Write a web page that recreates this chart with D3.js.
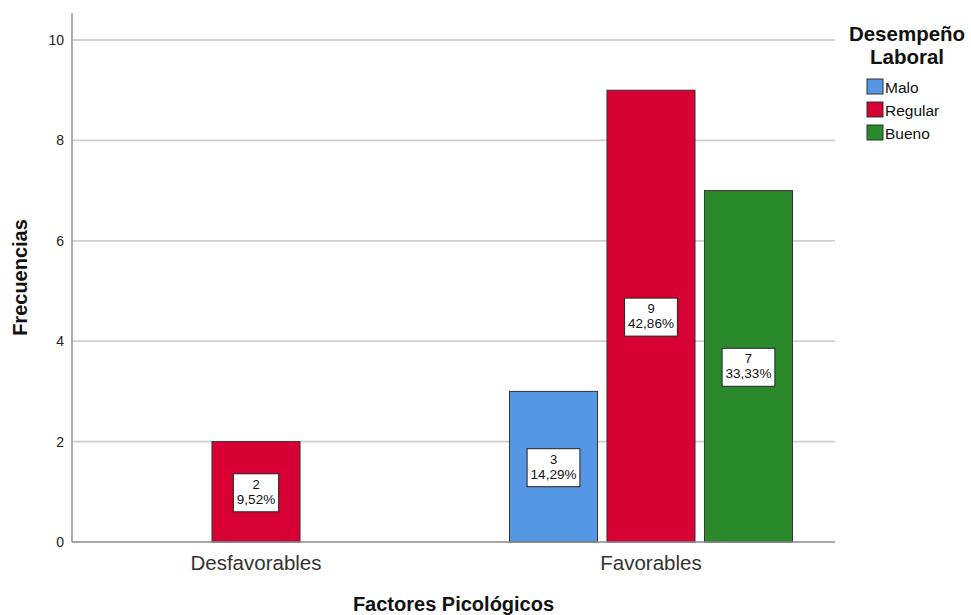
<!DOCTYPE html>
<html><head><meta charset="utf-8">
<script src="https://cdn.jsdelivr.net/npm/d3@7"></script>
<style>body{margin:0;background:#fff;} text{font-family:"Liberation Sans",Arial,sans-serif;}</style>
</head><body>
<svg id="c" width="971" height="615"></svg>
<script>
const categories = ["Desfavorables", "Favorables"];
const seriesNames = ["Malo", "Regular", "Bueno"];
const malo = [0, 3];
const regular = [2, 9];
const bueno = [0, 7];
const percents = {Malo: [null, "14,29%"], Regular: ["9,52%", "42,86%"], Bueno: [null, "33,33%"]};
const yTicks = [0, 2, 4, 6, 8, 10];
const colors = ["#5596e5", "#d60032", "#2a8a2b"];

const values = {Malo: malo, Regular: regular, Bueno: bueno};
const svg = d3.select("#c");
const mLeft = 72, mRight = 835, mTop = 13, mBottom = 542;
const y = d3.scaleLinear().domain([0, 10]).range([mBottom, 40]);
const x0 = d3.scaleBand().domain(categories).range([mLeft, mRight]).paddingInner(0.2835).paddingOuter(0.1076);
const x1 = d3.scaleBand().domain(seriesNames).range([0, x0.bandwidth()]).paddingInner(0.097).paddingOuter(0);
const color = d3.scaleOrdinal().domain(seriesNames).range(colors);

// gridlines
svg.append("g").selectAll("line").data(yTicks.filter(d => d > 0)).join("line")
  .attr("x1", mLeft).attr("x2", mRight).attr("y1", d => y(d)).attr("y2", d => y(d))
  .attr("stroke", "#d0d0d0").attr("stroke-width", 1.8);

// y axis
const yAxis = svg.append("g").attr("transform", `translate(${mLeft},0)`)
  .call(d3.axisLeft(y).tickValues(yTicks).tickSize(0).tickPadding(8));
yAxis.select(".domain").remove();
yAxis.selectAll("text").attr("font-size", 14).attr("fill", "#222").attr("font-family", "Liberation Sans, Arial, sans-serif");
svg.append("line").attr("x1", mLeft).attr("x2", mLeft).attr("y1", mTop).attr("y2", mBottom).attr("stroke", "#999").attr("stroke-width", 1.6);

// bars
const data = [];
categories.forEach((c, i) => seriesNames.forEach(s => {
  if (values[s][i] > 0) data.push({cat: c, s, v: values[s][i], p: percents[s][i]});
}));
const bars = svg.append("g");
bars.selectAll("rect").data(data).join("rect")
  .attr("x", d => x0(d.cat) + x1(d.s)).attr("width", x1.bandwidth())
  .attr("y", d => y(d.v)).attr("height", d => y(0) - y(d.v))
  .attr("fill", d => color(d.s)).attr("stroke", "#333").attr("stroke-width", 1);

// x axis baseline
svg.append("line").attr("x1", mLeft).attr("x2", mRight).attr("y1", mBottom).attr("y2", mBottom).attr("stroke", "#888").attr("stroke-width", 1.6);

// labels
const lab = svg.append("g").selectAll("g").data(data).join("g")
  .attr("transform", d => `translate(${x0(d.cat) + x1(d.s) + x1.bandwidth()/2},${(y(d.v) + y(0))/2 + 1})`);
lab.each(function(d) {
  const g = d3.select(this);
  const rect = g.append("rect");
  const t1 = g.append("text").attr("text-anchor", "middle").attr("y", -4).attr("font-size", 13).attr("fill", "#111").text(d.v);
  const t2 = g.append("text").attr("text-anchor", "middle").attr("y", 11).attr("font-size", 13.5).attr("fill", "#111").text(d.p);
  const w = Math.max(t1.node().getComputedTextLength(), t2.node().getComputedTextLength()) + 7;
  rect.attr("x", -w/2).attr("y", -19).attr("width", w).attr("height", 38).attr("fill", "#fff").attr("stroke", "#222").attr("stroke-width", 1);
});

// category labels
svg.append("g").selectAll("text").data(categories).join("text")
  .attr("x", d => x0(d) + x0.bandwidth()/2).attr("y", 570).attr("text-anchor", "middle")
  .attr("font-size", 20.5).attr("fill", "#333").text(d => d);

// axis titles
svg.append("text").attr("x", (mLeft + mRight)/2).attr("y", 611).attr("text-anchor", "middle").attr("font-size", 20).attr("font-weight", "bold").attr("fill", "#111").text("Factores Picológicos");
svg.append("text").attr("transform", `translate(27,${(mTop + mBottom)/2}) rotate(-90)`).attr("text-anchor", "middle").attr("font-size", 20).attr("font-weight", "bold").attr("fill", "#111").text("Frecuencias");

// legend
svg.append("text").attr("x", 907).attr("y", 41).attr("text-anchor", "middle").attr("font-size", 20.5).attr("font-weight", "bold").attr("fill", "#111").text("Desempeño");
svg.append("text").attr("x", 907).attr("y", 64).attr("text-anchor", "middle").attr("font-size", 20.5).attr("font-weight", "bold").attr("fill", "#111").text("Laboral");
const leg = svg.append("g").selectAll("g").data(seriesNames).join("g")
  .attr("transform", (d, i) => `translate(867,${79 + i * 23})`);
leg.append("rect").attr("width", 16).attr("height", 15).attr("fill", d => color(d)).attr("stroke", "#333").attr("stroke-width", 1);
leg.append("text").attr("x", 18).attr("y", 14).attr("font-size", 15.5).attr("fill", "#111").text(d => d);
</script>
</body></html>
